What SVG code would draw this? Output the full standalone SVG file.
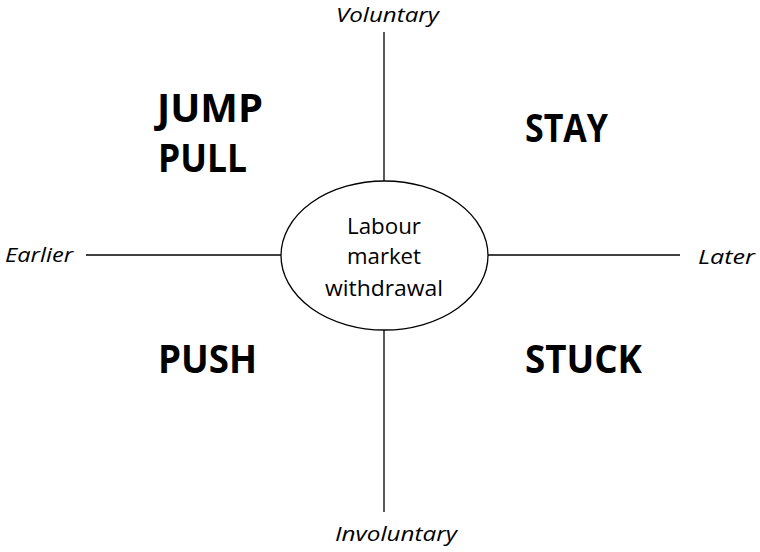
<svg xmlns="http://www.w3.org/2000/svg" width="760" height="552" viewBox="0 0 760 552">
<style>
.ax{stroke:#000;stroke-width:1.3;fill:none}
.lab{font-family:"Open Sans","Liberation Sans",sans-serif;font-style:italic;font-size:20px;fill:#000}
.big{font-family:"Open Sans","Liberation Sans",sans-serif;font-weight:bold;font-size:39px;fill:#000}
.mid{font-family:"Open Sans","Liberation Sans",sans-serif;font-size:22.5px;fill:#000;text-anchor:middle}
</style>
<rect width="760" height="552" fill="#fff"/>
<g id="connectors">
<line class="ax" x1="384" y1="32" x2="384" y2="181"/>
<line class="ax" x1="384" y1="330" x2="384" y2="512"/>
<line class="ax" x1="86" y1="255" x2="281" y2="255"/>
<line class="ax" x1="488" y1="255" x2="680" y2="255"/>
</g>
<g id="center">
<ellipse cx="384.5" cy="255.5" rx="103.5" ry="74.5" fill="#fff" stroke="#000" stroke-width="1.3"/>
<text class="mid" x="384" y="234" textLength="74" lengthAdjust="spacingAndGlyphs">Labour</text>
<text class="mid" x="384" y="264" textLength="74" lengthAdjust="spacingAndGlyphs">market</text>
<text class="mid" x="384" y="296" textLength="118" lengthAdjust="spacingAndGlyphs">withdrawal</text>
</g>
<g id="voluntary"><text class="lab" x="336" y="22" textLength="103" lengthAdjust="spacingAndGlyphs">Voluntary</text></g>
<g id="involuntary"><text class="lab" x="335" y="541" textLength="122" lengthAdjust="spacingAndGlyphs">Involuntary</text></g>
<g id="earlier"><text class="lab" x="5" y="262" textLength="68" lengthAdjust="spacingAndGlyphs">Earlier</text></g>
<g id="later"><text class="lab" x="698" y="264" textLength="57" lengthAdjust="spacingAndGlyphs">Later</text></g>
<g id="jumppull">
<text class="big" x="157" y="122" textLength="106" lengthAdjust="spacingAndGlyphs">JUMP</text>
<text class="big" x="158" y="172" textLength="89" lengthAdjust="spacingAndGlyphs">PULL</text>
</g>
<g id="stay"><text class="big" x="525" y="142" textLength="83" lengthAdjust="spacingAndGlyphs">STAY</text></g>
<g id="push"><text class="big" x="158" y="373" textLength="99" lengthAdjust="spacingAndGlyphs">PUSH</text></g>
<g id="stuck"><text class="big" x="525" y="373" textLength="117" lengthAdjust="spacingAndGlyphs">STUCK</text></g>
</svg>
